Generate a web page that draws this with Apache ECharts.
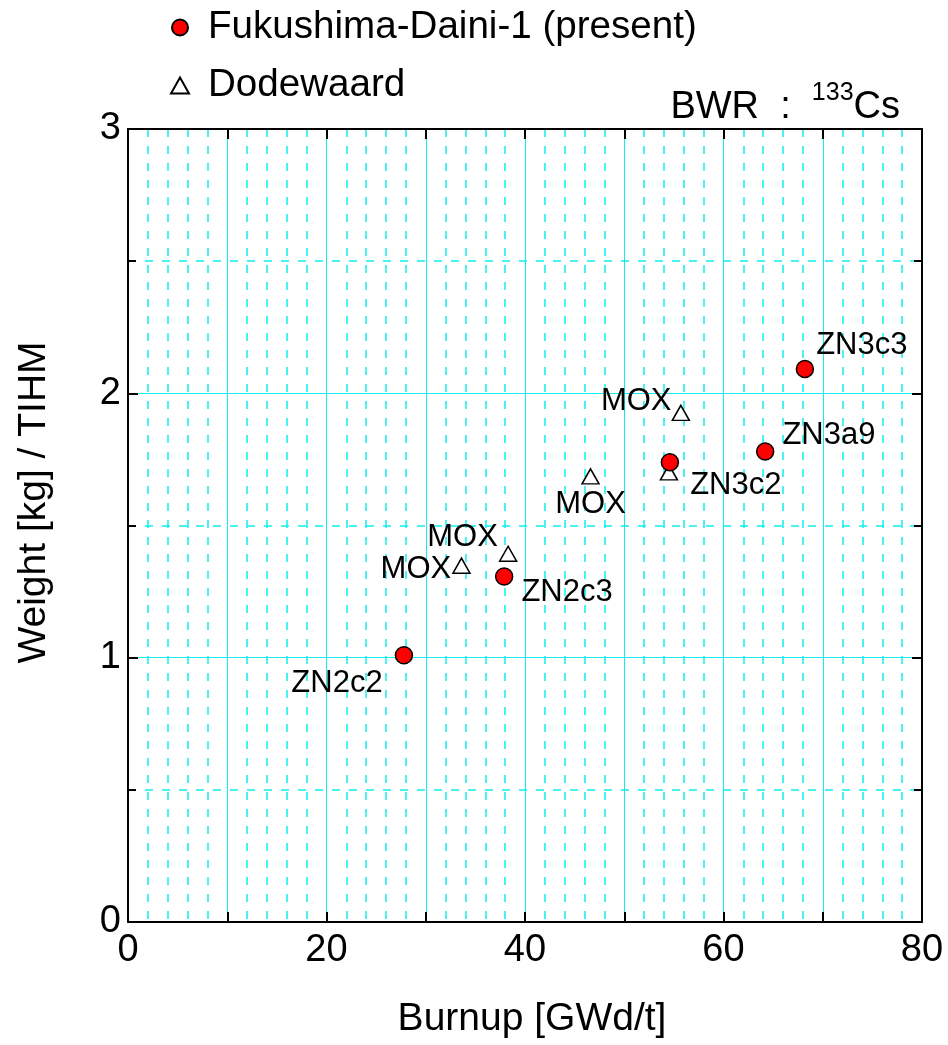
<!DOCTYPE html>
<html>
<head>
<meta charset="utf-8">
<title>BWR 133Cs</title>
<script src="https://cdn.jsdelivr.net/npm/echarts@6/dist/echarts.min.js"></script>
<style>
  html, body { margin: 0; padding: 0; background: #fff; }
  #chart { width: 948px; height: 1045px; }
</style>
</head>
<body>
<div id="chart"></div>
<script>
// Fukushima-Daini-1 (present) samples
const fukuBurnup = [27.8, 37.9, 54.6, 64.2, 68.2];
const fukuWeight = [1.009, 1.307, 1.739, 1.780, 2.092];
const fukuNames = ['ZN2c2', 'ZN2c3', 'ZN3c2', 'ZN3a9', 'ZN3c3'];

// Dodewaard samples
const dodeBurnup = [33.6, 38.3, 46.6, 55.7, 54.5];
const dodeWeight = [1.348, 1.393, 1.686, 1.926, 1.701];
const dodeNames = ['MOX', 'MOX', 'MOX', 'MOX', ''];

const xTickLabels = ['0', '20', '40', '60', '80'];
const yTickLabels = ['0', '1', '2', '3'];

// where each label sits next to its point
const fukuLabelPos = [
    { position: 'left', distance: 12, offset: [0, 28] },
    { position: 'right', distance: 8, offset: [0, 16] },
    { position: 'right', distance: 11, offset: [0, 23] },
    { position: 'right', distance: 8, offset: [0, -16] },
    { position: 'right', distance: 2, offset: [0, -24] },
];
const dodeLabelPos = [
    { position: 'left', distance: 1, offset: [0, 4] },
    { position: 'left', distance: 1, offset: [0, -16] },
    { position: 'bottom', distance: 4, offset: [0, 0] },
    { position: 'left', distance: 0, offset: [0, -11] },
    { position: 'left', distance: 0, offset: [0, 0] },
];

const font = 'Liberation Sans, Arial, sans-serif';
const cyan = '#10eef0';

var myChart = echarts.init(document.getElementById('chart'));

function buildPoints(xs, ys, names, placement) {
    return xs.map((x, i) => ({
        value: [x, ys[i]],
        name: names[i],
        label: {
            show: names[i] !== '',
            formatter: names[i],
            position: placement[i].position,
            distance: placement[i].distance,
            offset: placement[i].offset,
        }
    }))
}

function axisTickLabel(list) {
    return (v) => list.indexOf(String(v)) >= 0 ? String(v) : ''
}

const gridSolid = { show: true, lineStyle: { color: cyan, width: 1, type: 'solid' } }
const gridDashed = { show: true, lineStyle: { color: cyan, width: 1.5, type: [8, 9] } }

const baseX = {
    type: 'value',
    min: 0,
    max: 80,
    interval: 10,
    axisLine: { show: true, onZero: false, lineStyle: { color: '#000', width: 2 } },
    axisTick: { show: true, inside: true, length: 10, lineStyle: { color: '#000', width: 2 } },
    minorTick: { show: false, splitNumber: 5 },
}
const baseY = {
    type: 'value',
    min: 0,
    max: 3,
    interval: 1,
    axisLine: { show: true, onZero: false, lineStyle: { color: '#000', width: 2 } },
    axisTick: { show: true, inside: true, length: 10, lineStyle: { color: '#000', width: 2 } },
    minorTick: { show: true, splitNumber: 2, length: 8, lineStyle: { color: '#000', width: 2 } },
}

option = {
    backgroundColor: '#fff',
    animation: false,
    textStyle: { fontFamily: font, color: '#000' },
    title: {
        text: '{a|BWR  :  }{sup|133}{a|Cs}',
        right: 48,
        top: 81,
        padding: 0,
        textStyle: {
            fontWeight: 'normal',
            rich: {
                a: { fontFamily: font, fontWeight: 'normal', fontSize: 38, lineHeight: 46, color: '#000', verticalAlign: 'bottom' },
                sup: { fontFamily: font, fontWeight: 'normal', fontSize: 25, lineHeight: 25, color: '#000', verticalAlign: 'top' },
            }
        }
    },
    legend: {
        orient: 'vertical',
        left: 170,
        top: 8,
        padding: 0,
        itemGap: 19,
        itemWidth: 18,
        itemHeight: 16,
        data: [
            { name: 'Fukushima-Daini-1 (present)', icon: 'circle' },
            { name: 'Dodewaard', icon: 'triangle' },
        ],
        textStyle: { fontFamily: font, fontSize: 38.6, color: '#000', padding: [0, 0, 0, 14] },
    },
    grid: { left: 128, right: 26, top: 129, bottom: 123 },
    xAxis: [
        Object.assign({}, baseX, {
            position: 'bottom',
            name: 'Burnup [GWd/t]',
            nameLocation: 'middle',
            nameGap: 78,
            nameTextStyle: { fontFamily: font, fontSize: 39, color: '#000', padding: [0, 0, 0, 14] },
            axisLabel: { formatter: axisTickLabel(xTickLabels), fontFamily: font, fontSize: 38, color: '#000', margin: 10 },
            splitLine: gridSolid,
            minorSplitLine: gridDashed,
        }),
        Object.assign({}, baseX, {
            position: 'top',
            axisLabel: { show: false },
            splitLine: { show: false },
            minorSplitLine: { show: false },
        }),
    ],
    yAxis: [
        Object.assign({}, baseY, {
            position: 'left',
            name: 'Weight [kg] / TIHM',
            nameLocation: 'middle',
            nameGap: 74,
            nameTextStyle: { fontFamily: font, fontSize: 39, color: '#000', padding: [0, 0, 0, 46] },
            axisLabel: { formatter: axisTickLabel(yTickLabels), fontFamily: font, fontSize: 38, color: '#000', margin: 7 },
            splitLine: gridSolid,
            minorSplitLine: gridDashed,
        }),
        Object.assign({}, baseY, {
            position: 'right',
            axisLabel: { show: false },
            splitLine: { show: false },
            minorSplitLine: { show: false },
        }),
    ],
    series: [
        {
            name: 'Dodewaard',
            type: 'scatter',
            xAxisIndex: 0,
            yAxisIndex: 0,
            symbol: 'triangle',
            symbolSize: [17, 15],
            z: 3,
            itemStyle: { color: '#fff', borderColor: '#000', borderWidth: 1.5, opacity: 1 },
            label: { fontFamily: font, fontSize: 31, color: '#000' },
            emphasis: { disabled: true },
            data: buildPoints(dodeBurnup, dodeWeight, dodeNames, dodeLabelPos),
        },
        {
            name: 'Fukushima-Daini-1 (present)',
            type: 'scatter',
            xAxisIndex: 0,
            yAxisIndex: 0,
            symbol: 'circle',
            symbolSize: 17,
            z: 4,
            itemStyle: { color: '#ff0000', borderColor: '#000', borderWidth: 1.5, opacity: 1 },
            label: { fontFamily: font, fontSize: 31, color: '#000' },
            emphasis: { disabled: true },
            data: buildPoints(fukuBurnup, fukuWeight, fukuNames, fukuLabelPos),
        },
    ]
}
myChart.setOption(option);
</script>
</body>
</html>
